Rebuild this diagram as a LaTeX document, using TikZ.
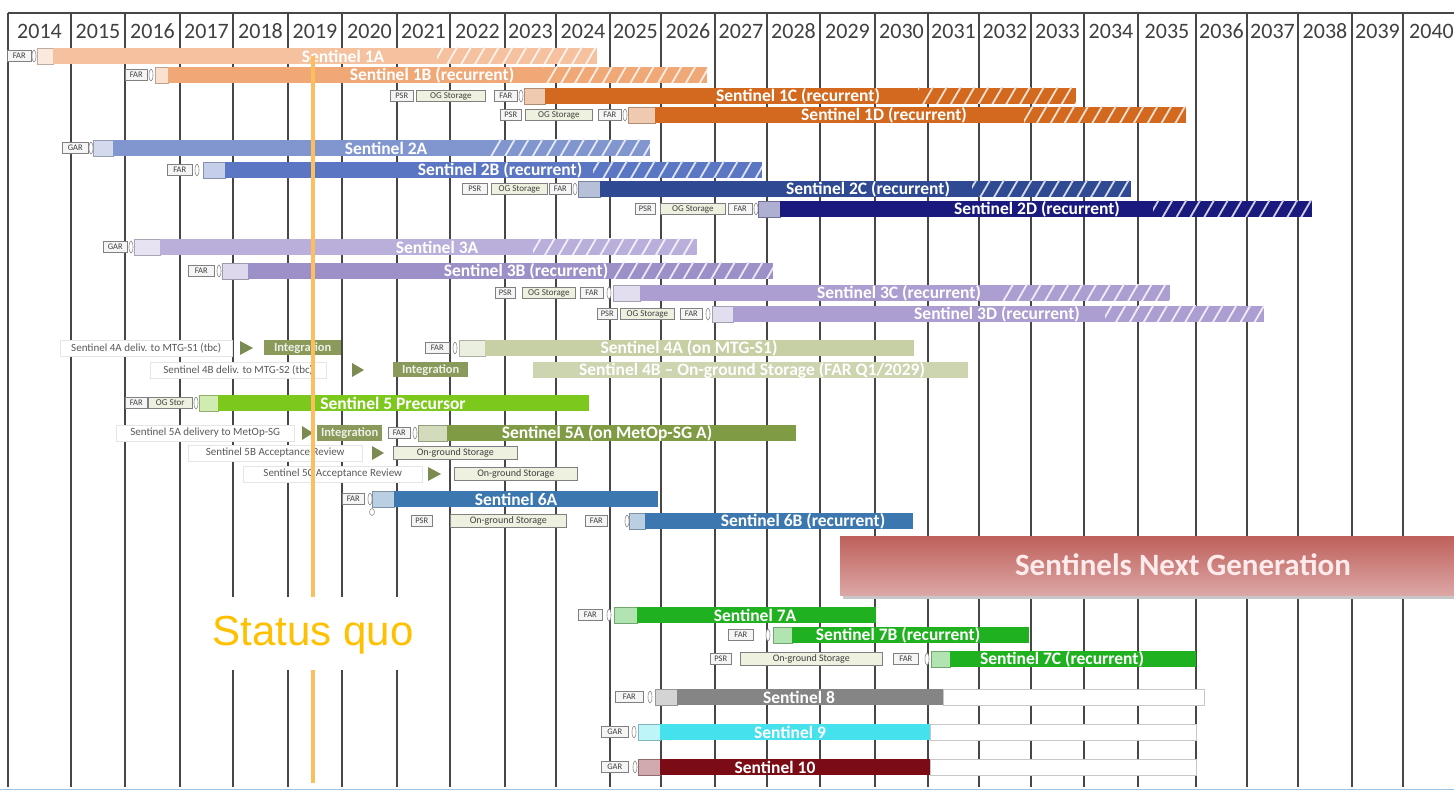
\documentclass[tikz,border=0pt]{standalone}
\usepackage{fontspec}
\setmainfont{Carlito}
\newfontfamily\arialf{Liberation Sans}
\usetikzlibrary{patterns.meta}
\definecolor{c1A}{HTML}{F5C19E}
\definecolor{c1B}{HTML}{F0A877}
\definecolor{c1C}{HTML}{D2691E}
\definecolor{c2A}{HTML}{8196CF}
\definecolor{c2B}{HTML}{5B76C2}
\definecolor{c2C}{HTML}{2F4A92}
\definecolor{c2D}{HTML}{1A1A7E}
\definecolor{c3A}{HTML}{BAAFDA}
\definecolor{c3B}{HTML}{9D8FC7}
\definecolor{c3C}{HTML}{AC9ED0}
\definecolor{c4A}{HTML}{C6D0A4}
\definecolor{c4B}{HTML}{CCD5B0}
\definecolor{cint}{HTML}{8A9A5B}
\definecolor{c5P}{HTML}{7DC81C}
\definecolor{c5A}{HTML}{7F9B43}
\definecolor{c6}{HTML}{3C77B0}
\definecolor{c7}{HTML}{1FB11F}
\definecolor{c8}{HTML}{858585}
\definecolor{c9}{HTML}{45E2EE}
\definecolor{c10}{HTML}{7B0B14}
\definecolor{cng1}{HTML}{BF605C}
\definecolor{cng2}{HTML}{DBA6A4}
\definecolor{cstat}{HTML}{FFC000}
\definecolor{cline}{HTML}{FDBE5E}
\definecolor{ogfill}{HTML}{EEF1DF}
\definecolor{cblue}{HTML}{9DC3E6}
\tikzset{
 tag/.style={draw=black!50, fill=black!4, line width=0.6pt, minimum height=11pt, inner sep=0pt, anchor=west, font=\fontsize{8.5}{8.5}\selectfont, text=black!75},
 ogs/.style={tag, fill=ogfill, font=\fontsize{9}{9}\selectfont},
 ogl/.style={tag, fill=ogfill, minimum height=13pt, font=\fontsize{10}{10}\selectfont},
 desc/.style={draw=black!10, fill=white, line width=0.5pt, minimum height=16pt, inner sep=0pt, anchor=west, font=\fontsize{11}{11}\selectfont, text=black!65},
 integ/.style={fill=cint, draw=none, inner sep=0pt, minimum height=15pt, anchor=west, font=\fontsize{12.5}{12.5}\selectfont\bfseries, text=white!85!cint},
 blab/.style={font=\fontsize{17.5}{17.5}\selectfont\bfseries, text=white, inner sep=0pt},
 year/.style={font=\fontsize{22}{22}\selectfont, text=black!75, inner sep=0pt},
 mk/.style={draw=black!45, fill=white, line width=0.6pt},
 gridline/.style={draw=black!72, line width=2pt},
}
\newcommand{\tg}[6][tag]{\node[#1, minimum width={(#4-#3)*1pt}] (#2) at (#3,#5) {#6};}
\newcommand{\bsolid}[4]{\fill[#4] (#2,#1-8) rectangle (#3,#1+8);}
\newcommand{\bhatch}[4]{\fill[#4] (#2,#1-8) rectangle (#3,#1+8);\fill[pattern={Lines[angle=60,distance=12pt,line width=1.8pt]},pattern color=white!80!#4] (#2,#1-8) rectangle (#3,#1+8);}
\newcommand{\blight}[4]{\filldraw[fill=#4!35!white, draw=#4!60!black!60, line width=0.5pt] (#2,#1-8) rectangle (#3,#1+8);}
\newcommand{\bmk}[2]{\draw[mk] (#1,#2) ellipse (2pt and 6pt);}
\newcommand{\bwhite}[3]{\filldraw[fill=white, draw=black!22, line width=0.6pt] (#2,#1-8) rectangle (#3,#1+8);}
\newcommand{\btri}[3]{\fill[cint!90!black] (#2,#1-7) -- (#3,#1) -- (#2,#1+7) -- cycle;}
\begin{document}
\begin{tikzpicture}[x=1pt,y=-1pt]
\useasboundingbox (0,0) rectangle (1454,791);
\fill[white] (0,0) rectangle (1454,791);
% grid
\foreach \x in {8,71,125,180,233,288,342,397,450,505,556,610,661,715,767,820,875,928,979,1031,1084,1138,1196,1247,1298,1352,1403}
  \draw[gridline] (\x,13) -- (\x,787);
\draw[gridline] (8,13) -- (1454,13);
\draw[cblue, line width=1.5pt] (0,789.5) -- (1454,789.5);
\foreach \xa/\xb/\yr in {8/71/2014,71/125/2015,125/180/2016,180/233/2017,233/288/2018,288/342/2019,342/397/2020,397/450/2021,450/505/2022,505/556/2023,556/610/2024,610/661/2025,661/715/2026,715/767/2027,767/820/2028,820/875/2029,875/928/2030,928/979/2031,979/1031/2032,1031/1084/2033,1084/1138/2034,1138/1196/2035,1196/1247/2036,1247/1298/2037,1298/1352/2038,1352/1403/2039,1403/1460/2040}
  \node[year] (y\yr) at ({(\xa+\xb)/2},31) {\yr};
% Sentinel 1
\tg{f1A}{7}{31}{56}{FAR}\bmk{34}{56}
\blight{56}{37}{53}{c1A}\bsolid{56}{53}{437}{c1A}\bhatch{56}{437}{597}{c1A}
\node[blab] (s1A) at (343,56) {Sentinel 1A};
\tg{f1B}{125}{147}{75}{FAR}\bmk{151}{75}
\blight{75}{155}{168}{c1B}\bsolid{75}{168}{543}{c1B}\bhatch{75}{543}{707}{c1B}
\node[blab] (s1B) at (432,75) {Sentinel 1B (recurrent)};
\tg{p1C}{390}{413}{96}{PSR}\tg[ogs]{o1C}{416}{485}{96}{OG Storage}\tg{f1C}{494}{517}{96}{FAR}\bmk{521}{96}
\blight{96}{524}{545}{c1C}\bsolid{96}{545}{918}{c1C}\bhatch{96}{918}{1076}{c1C}
\node[blab] (s1C) at (798,96) {Sentinel 1C (recurrent)};
\tg{p1D}{500}{521}{115}{PSR}\tg[ogs]{o1D}{525}{592}{115}{OG Storage}\tg{f1D}{598}{621}{115}{FAR}\bmk{625}{115}
\blight{115}{628}{655}{c1C}\bsolid{115}{655}{1024}{c1C}\bhatch{115}{1024}{1186}{c1C}
\node[blab] (s1D) at (884,115) {Sentinel 1D (recurrent)};
% Sentinel 2
\tg{f2A}{62}{88}{148}{GAR}\bmk{91}{148}
\blight{148}{93}{113}{c2A}\bsolid{148}{113}{488}{c2A}\bhatch{148}{488}{650}{c2A}
\node[blab] (s2A) at (386,148) {Sentinel 2A};
\tg{f2B}{167}{192}{170}{FAR}\bmk{197}{170}
\blight{170}{203}{225}{c2B}\bsolid{170}{225}{593}{c2B}\bhatch{170}{593}{762}{c2B}
\node[blab] (s2B) at (500,170) {Sentinel 2B (recurrent)};
\tg{p2C}{462}{487}{189}{PSR}\tg[ogs]{o2C}{491}{547}{189}{OG Storage}\tg{f2C}{549}{571}{189}{FAR}\bmk{575}{189}
\blight{189}{578}{600}{c2C}\bsolid{189}{600}{972}{c2C}\bhatch{189}{972}{1131}{c2C}
\node[blab] (s2C) at (868,189) {Sentinel 2C (recurrent)};
\tg{p2D}{635}{655}{209}{PSR}\tg[ogs]{o2D}{660}{725}{209}{OG Storage}\tg{f2D}{728}{752}{209}{FAR}\bmk{756}{209}
\blight{209}{758}{780}{c2D}\bsolid{209}{780}{1153}{c2D}\bhatch{209}{1153}{1312}{c2D}
\node[blab] (s2D) at (1037,209) {Sentinel 2D (recurrent)};
% Sentinel 3
\tg{f3A}{103}{127}{247}{GAR}\bmk{131}{247}
\blight{247}{134}{160}{c3A}\bsolid{247}{160}{533}{c3A}\bhatch{247}{533}{697}{c3A}
\node[blab] (s3A) at (437,247) {Sentinel 3A};
\tg{f3B}{188}{214}{271}{FAR}\bmk{219}{271}
\blight{271}{222}{248}{c3B}\bsolid{271}{248}{612}{c3B}\bhatch{271}{612}{773}{c3B}
\node[blab] (s3B) at (526,271) {Sentinel 3B (recurrent)};
\tg{p3C}{495}{515}{293}{PSR}\tg[ogs]{o3C}{522}{575}{293}{OG Storage}\tg{f3C}{580}{603}{293}{FAR}\bmk{609}{293}
\blight{293}{613}{640}{c3C}\bsolid{293}{640}{1000}{c3C}\bhatch{293}{1000}{1170}{c3C}
\node[blab] (s3C) at (899,293) {Sentinel 3C (recurrent)};
\tg{p3D}{597}{617}{314}{PSR}\tg[ogs]{o3D}{620}{674}{314}{OG Storage}\tg{f3D}{680}{702}{314}{FAR}\bmk{708}{314}
\blight{314}{712}{733}{c3C}\bsolid{314}{733}{1105}{c3C}\bhatch{314}{1105}{1264}{c3C}
\node[blab] (s3D) at (997,314) {Sentinel 3D (recurrent)};
% Sentinel 4
\tg[desc]{d4A}{60}{232}{348}{Sentinel 4A deliv. to MTG-S1 (tbc)}\btri{348}{240}{253}
\tg[integ]{i4A}{264}{341}{348}{Integration}
\tg{f4A}{425}{449}{348}{FAR}\bmk{455}{348}
\blight{348}{459}{485}{c4A}\bsolid{348}{485}{914}{c4A}
\node[blab] (s4A) at (689,348) {Sentinel 4A (on MTG-S1)};
\tg[desc]{d4B}{150}{326}{370}{Sentinel 4B deliv. to MTG-S2 (tbc)}\btri{370}{352}{364}
\tg[integ]{i4B}{393}{468}{370}{Integration}
\bsolid{370}{533}{968}{c4B}
\node[blab] (s4B) at (752,370) {Sentinel 4B -- On-ground Storage (FAR Q1/2029)};
% Sentinel 5
\tg{f5P}{125}{147}{403}{FAR}\tg[ogs]{o5P}{148}{192}{403}{OG Stor}\bmk{196}{403}
\blight{403}{199}{218}{c5P}\bsolid{403}{218}{589}{c5P}
\node[blab] (s5P) at (393,403) {Sentinel 5 Precursor};
\tg[desc]{d5A}{116}{294}{433}{Sentinel 5A delivery to MetOp-SG}\btri{433}{302}{313}
\tg[integ]{i5A}{317}{382}{433}{Integration}
\tg{f5A}{388}{410}{433}{FAR}\bmk{415}{433}
\blight{433}{418}{447}{c5A}\bsolid{433}{447}{796}{c5A}
\node[blab] (s5A) at (607,433) {Sentinel 5A (on MetOp-SG A)};
\tg[desc]{d5B}{188}{362}{453}{Sentinel 5B Acceptance Review}\btri{453}{372}{384}
\tg[ogl]{o5B}{393}{517}{453}{On-ground Storage}
\tg[desc]{d5C}{243}{422}{474}{Sentinel 5C Acceptance Review}\btri{474}{428}{441}
\tg[ogl]{o5C}{454}{577}{474}{On-ground Storage}
% Sentinel 6
\tg{f6A}{342}{364}{499}{FAR}
\blight{499}{372}{394}{c6}\bsolid{499}{394}{658}{c6}\bmk{370}{499}
\draw[mk] (372,512) ellipse (2.5pt and 3.5pt);
\node[blab] (s6A) at (516,499) {Sentinel 6A};
\tg{p6B}{411}{432}{521}{PSR}\tg[ogl]{o6B}{450}{566}{521}{On-ground Storage}\tg{f6B}{585}{607}{521}{FAR}\bmk{627}{521}
\blight{521}{629}{645}{c6}\bsolid{521}{645}{913}{c6}
\node[blab] (s6B) at (803,521) {Sentinel 6B (recurrent)};
% Next generation
\fill[black!22] (843,539) rectangle (1457,599);
\shade[top color=cng1, bottom color=cng2] (840,536) rectangle (1454,595);
\node[font=\fontsize{31}{31}\selectfont\bfseries, text=white!92!red, inner sep=0pt] (ng) at (1183,565) {Sentinels Next Generation};
% Sentinel 7
\tg{f7A}{578}{602}{615}{FAR}\bmk{609}{615}
\blight{615}{614}{637}{c7}\bsolid{615}{637}{876}{c7}
\node[blab] (s7A) at (755,615) {Sentinel 7A};
\tg{f7B}{728}{753}{635}{FAR}\bmk{768}{635}
\blight{635}{773}{792}{c7}\bsolid{635}{792}{1029}{c7}
\node[blab] (s7B) at (898,635) {Sentinel 7B (recurrent)};
\tg{p7C}{710}{731}{659}{PSR}\tg[ogl]{o7C}{740}{882}{659}{On-ground Storage}\tg{f7C}{893}{918}{659}{FAR}\bmk{927}{659}
\blight{659}{931}{950}{c7}\bsolid{659}{950}{1196}{c7}
\node[blab] (s7C) at (1062,659) {Sentinel 7C (recurrent)};
% Sentinel 8, 9, 10
\tg{f8}{615}{643}{697}{FAR}\bmk{650}{697}
\blight{697}{655}{677}{c8}\bsolid{697}{677}{943}{c8}\bwhite{697}{943}{1204}
\node[blab] (s8) at (799,697) {Sentinel 8};
\tg{f9}{601}{628}{732}{GAR}\bmk{634}{732}
\blight{732}{638}{660}{c9}\bsolid{732}{660}{930}{c9}\bwhite{732}{930}{1196}
\node[blab] (s9) at (790,732) {Sentinel 9};
\tg{f10}{601}{628}{767}{GAR}\bmk{635}{767}
\blight{767}{638}{660}{c10}\bsolid{767}{660}{930}{c10}\bwhite{767}{930}{1196}
\node[blab] (s10) at (775,767) {Sentinel 10};
% Status quo
\node[fill=white, minimum width=215pt, minimum height=73pt, inner sep=0pt] (sqbox) at (313,633.5) {};
\node[font=\arialf\fontsize{42}{42}\selectfont, text=cstat, inner sep=0pt] (sq) at (313,635) {Status quo};
\coordinate (sqtop) at (313,56);
\coordinate (sqbot) at (313,783);
\draw[cline, line width=4pt] (sqtop) -- (sqbox.north);
\draw[cline, line width=4pt] (sqbox.south) -- (sqbot);
\end{tikzpicture}
\end{document}
